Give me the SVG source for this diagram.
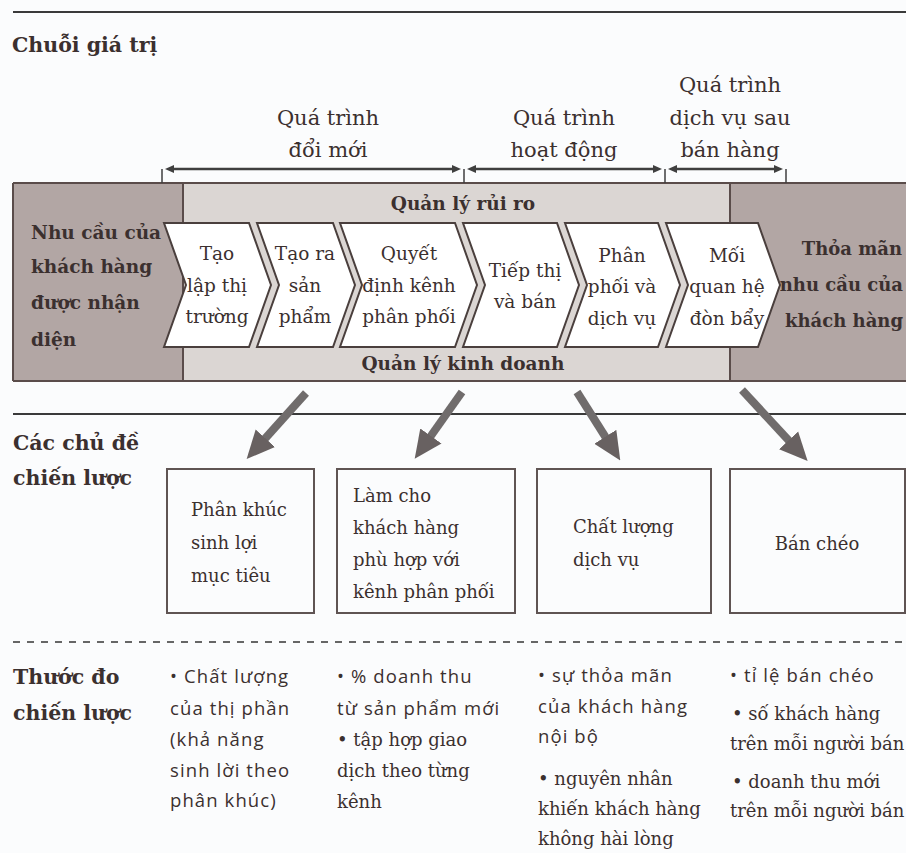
<svg xmlns="http://www.w3.org/2000/svg" width="906" height="853" viewBox="0 0 906 853">
  <style>
    text { fill: #3b302f; }
    .title { font-family: 'DejaVu Serif', serif; font-weight: bold; font-size: 20.5px; }
    .band { font-family: 'DejaVu Serif', serif; font-weight: bold; font-size: 18.5px; }
    .edge { font-family: 'DejaVu Serif', serif; font-weight: bold; font-size: 18px; text-anchor: end; }
    .step { font-family: 'DejaVu Serif', serif; font-size: 18.5px; text-anchor: middle; }
    .head { font-family: 'DejaVu Serif', serif; font-size: 21px; text-anchor: middle; }
    .box { font-family: 'DejaVu Serif', serif; font-size: 18px; }
    .sans { font-family: 'Open Sans', sans-serif; font-size: 18.5px; letter-spacing: 1.1px; }
    .serif { font-family: 'DejaVu Serif', serif; font-size: 18px; }
    .chev { fill: #ffffff; stroke: #4a3f3d; stroke-width: 2; stroke-linejoin: miter; }
    .frame { fill: none; stroke: #5a4c4a; stroke-width: 2; }
    .theme { fill: none; stroke: #5f5453; stroke-width: 2; }
    .span { stroke: #3f3f3f; stroke-width: 2.5; fill: none; }
    .tick { stroke: #3f3f3f; stroke-width: 1.5; }
    .big { stroke: #706c6c; stroke-width: 8; fill: none; }
    .rule { stroke: #3a3a3a; stroke-width: 1.8; }
  </style>
  <defs>
    <marker id="spanHead" viewBox="0 0 9 8" refX="3" refY="4" markerWidth="9" markerHeight="8" markerUnits="userSpaceOnUse" orient="auto-start-reverse">
      <path d="M0,0 L9,4 L0,8 z" fill="#3f3f3f"/>
    </marker>
    <marker id="bigHead" viewBox="0 0 28 28" refX="5" refY="14" markerWidth="28" markerHeight="28" markerUnits="userSpaceOnUse" orient="auto">
      <path d="M0,1 L28,14 L0,27 z" fill="#686161"/>
    </marker>
  </defs>

  <!-- page -->
  <rect x="0" y="0" width="906" height="853" fill="#fbfcfd"/>
  <line class="rule" x1="13" y1="12" x2="906" y2="12"/>
  <text class="title" x="12" y="52">Chuỗi giá trị</text>

  <!-- process phase headings -->
  <g id="phase-innovation">
    <text class="head" x="328" y="125">Quá trình</text>
    <text class="head" x="328" y="157">đổi mới</text>
  </g>
  <g id="phase-operations">
    <text class="head" x="564" y="125">Quá trình</text>
    <text class="head" x="564" y="157">hoạt động</text>
  </g>
  <g id="phase-aftersales">
    <text class="head" x="730" y="92">Quá trình</text>
    <text class="head" x="730" y="125">dịch vụ sau</text>
    <text class="head" x="730" y="157">bán hàng</text>
  </g>

  <!-- value chain band -->
  <g id="band">
    <rect x="183" y="183" width="547" height="198" fill="#dbd6d3"/>
    <rect x="13" y="183" width="170" height="198" fill="#b2a6a4"/>
    <rect x="730" y="183" width="176" height="198" fill="#b2a6a4"/>
    <line class="frame" x1="13" y1="183" x2="906" y2="183"/>
    <line class="frame" x1="13" y1="381" x2="906" y2="381"/>
    <line class="frame" x1="13" y1="183" x2="13" y2="381"/>
    <line class="frame" x1="183" y1="183" x2="183" y2="381"/>
    <line class="frame" x1="730" y1="183" x2="730" y2="381"/>
    <text class="band" x="463" y="210" text-anchor="middle">Quản lý rủi ro</text>
    <text class="band" x="463" y="370" text-anchor="middle">Quản lý kinh doanh</text>
  </g>

  <g id="need">
    <text class="band" x="31" y="239">Nhu cầu của</text>
    <text class="band" x="31" y="273">khách hàng</text>
    <text class="band" x="31" y="309">được nhận</text>
    <text class="band" x="31" y="346">diện</text>
  </g>
  <g id="satisfaction">
    <text class="edge" x="902" y="255">Thỏa mãn</text>
    <text class="edge" x="903" y="291">nhu cầu của</text>
    <text class="edge" x="903" y="327">khách hàng</text>
  </g>

  <!-- chevron steps -->
  <g id="step-market">
    <polygon class="chev" points="164,223 249,223 271,285 249,347 164,347 186,285"/>
    <text class="step" x="217" y="260">Tạo</text>
    <text class="step" x="217" y="292">lập thị</text>
    <text class="step" x="217" y="323">trường</text>
  </g>
  <g id="step-product">
    <polygon class="chev" points="257,223 333,223 355,285 333,347 257,347 279,285"/>
    <text class="step" x="305" y="260">Tạo ra</text>
    <text class="step" x="305" y="292">sản</text>
    <text class="step" x="305" y="323">phẩm</text>
  </g>
  <g id="step-channel">
    <polygon class="chev" points="340,223 455,223 477,285 455,347 340,347 362,285"/>
    <text class="step" x="409" y="260">Quyết</text>
    <text class="step" x="409" y="292">định kênh</text>
    <text class="step" x="409" y="323">phân phối</text>
  </g>
  <g id="step-sales">
    <polygon class="chev" points="463,223 557,223 579,285 557,347 463,347 485,285"/>
    <text class="step" x="525" y="277">Tiếp thị</text>
    <text class="step" x="525" y="308">và bán</text>
  </g>
  <g id="step-distribution">
    <polygon class="chev" points="565,223 658,223 680,285 658,347 565,347 587,285"/>
    <text class="step" x="622" y="262">Phân</text>
    <text class="step" x="622" y="293">phối và</text>
    <text class="step" x="622" y="325">dịch vụ</text>
  </g>
  <g id="step-leverage">
    <polygon class="chev" points="666,223 758,223 780,285 758,347 666,347 688,285"/>
    <text class="step" x="727" y="262">Mối</text>
    <text class="step" x="727" y="293">quan hệ</text>
    <text class="step" x="727" y="325">đòn bẩy</text>
  </g>

  <!-- strategic themes -->
  <line class="rule" x1="13" y1="414" x2="906" y2="414"/>
  <g id="themes-label">
    <text class="title" x="13" y="450">Các chủ đề</text>
    <text class="title" x="13" y="485">chiến lược</text>
  </g>
  <g id="theme-segment">
    <rect class="theme" x="167" y="469" width="147" height="144"/>
    <text class="box" x="191" y="516">Phân khúc</text>
    <text class="box" x="191" y="549">sinh lợi</text>
    <text class="box" x="191" y="582">mục tiêu</text>
  </g>
  <g id="theme-channel">
    <rect class="theme" x="337" y="469" width="178" height="144"/>
    <text class="box" x="353" y="502">Làm cho</text>
    <text class="box" x="353" y="534">khách hàng</text>
    <text class="box" x="353" y="566">phù hợp với</text>
    <text class="box" x="353" y="598">kênh phân phối</text>
  </g>
  <g id="theme-service">
    <rect class="theme" x="537" y="469" width="174" height="144"/>
    <text class="box" x="573" y="533">Chất lượng</text>
    <text class="box" x="573" y="566">dịch vụ</text>
  </g>
  <g id="theme-crosssell">
    <rect class="theme" x="730" y="469" width="175" height="144"/>
    <text class="box" x="817" y="550" text-anchor="middle">Bán chéo</text>
  </g>

  <!-- strategic measures -->
  <line x1="13" y1="642" x2="906" y2="642" stroke="#666" stroke-width="2" stroke-dasharray="7,7"/>
  <g id="measures-label">
    <text class="title" x="13" y="684">Thước đo</text>
    <text class="title" x="13" y="720">chiến lược</text>
  </g>
  <g id="measure-segment">
    <text class="sans" x="170" y="683">• Chất lượng</text>
    <text class="sans" x="170" y="715">của thị phần</text>
    <text class="sans" x="170" y="746">(khả năng</text>
    <text class="sans" x="170" y="777">sinh lời theo</text>
    <text class="sans" x="170" y="807">phân khúc)</text>
  </g>
  <g id="measure-channel">
    <text class="sans" x="337" y="683">• % doanh thu</text>
    <text class="sans" x="337" y="715">từ sản phẩm mới</text>
    <text class="serif" x="337" y="746">• tập hợp giao</text>
    <text class="serif" x="337" y="777">dịch theo từng</text>
    <text class="serif" x="337" y="808">kênh</text>
  </g>
  <g id="measure-service">
    <text class="sans" x="538" y="682">• sự thỏa mãn</text>
    <text class="sans" x="538" y="713">của khách hàng</text>
    <text class="sans" x="538" y="743">nội bộ</text>
    <text class="serif" x="538" y="785">• nguyên nhân</text>
    <text class="serif" x="538" y="815">khiến khách hàng</text>
    <text class="serif" x="538" y="845">không hài lòng</text>
  </g>
  <g id="measure-crosssell">
    <text class="sans" x="730" y="682">• tỉ lệ bán chéo</text>
    <text class="serif" x="732" y="720">• số khách hàng</text>
    <text class="serif" x="730" y="750">trên mỗi người bán</text>
    <text class="serif" x="732" y="788">• doanh thu mới</text>
    <text class="serif" x="730" y="817">trên mỗi người bán</text>
  </g>

  <!-- connectors -->
  <g id="connectors">
    <line class="tick" x1="162" y1="169" x2="162" y2="183"/>
    <line class="tick" x1="464" y1="169" x2="464" y2="183"/>
    <line class="tick" x1="665" y1="169" x2="665" y2="183"/>
    <line class="tick" x1="786" y1="169" x2="786" y2="183"/>
    <line class="span" x1="171" y1="169" x2="455" y2="169" marker-start="url(#spanHead)" marker-end="url(#spanHead)"/>
    <line class="span" x1="473" y1="169" x2="656" y2="169" marker-start="url(#spanHead)" marker-end="url(#spanHead)"/>
    <line class="span" x1="674" y1="169" x2="777" y2="169" marker-start="url(#spanHead)" marker-end="url(#spanHead)"/>
    <line class="big" x1="306" y1="393" x2="262" y2="442" marker-end="url(#bigHead)"/>
    <line class="big" x1="462" y1="392" x2="428" y2="440" marker-end="url(#bigHead)"/>
    <line class="big" x1="577" y1="392" x2="608" y2="441" marker-end="url(#bigHead)"/>
    <line class="big" x1="742" y1="390" x2="792" y2="444" marker-end="url(#bigHead)"/>
  </g>
</svg>
